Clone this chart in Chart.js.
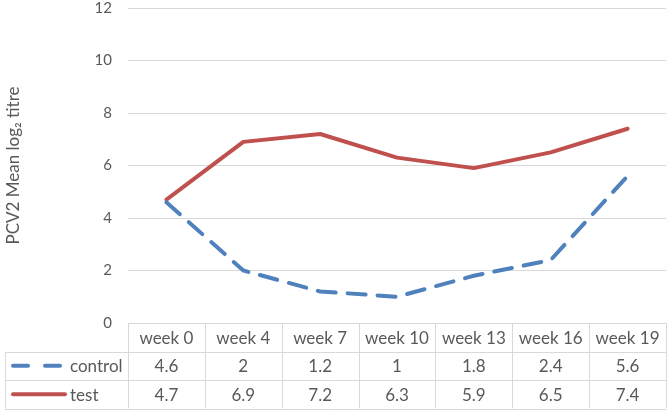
<!DOCTYPE html>
<html>
<head>
<meta charset="utf-8">
<script src="https://cdn.jsdelivr.net/npm/chart.js@4"></script>
<style>
    html, body { margin: 0; padding: 0; background: #fff; }
    #wrap { width: 669px; height: 412px; position: relative; }
</style>
</head>
<body>
<div id="wrap"><canvas id="grafico"></canvas></div>
<script>
const semanas = ['week 0', 'week 4', 'week 7', 'week 10', 'week 13', 'week 16', 'week 19'];
const controle = [4.6, 2, 1.2, 1, 1.8, 2.4, 5.6];
const teste = [4.7, 6.9, 7.2, 6.3, 5.9, 6.5, 7.4];
const nomes = ['control', 'test'];

const corControle = '#4F81BD';
const corTeste = '#C0504D';
const corTexto = '#595959';
const corGrade = '#d9d9d9';
const fonte = 'Lato, "Open Sans", sans-serif';

// desenha a tabela de dados embaixo do grafico
const tabelaPlugin = {
    id: 'tabela',
    afterDraw: function (chart) {
        const ctx = chart.ctx;
        const x = chart.scales.x;
        const topo = chart.chartArea.bottom;
        const alt = 28.5;
        const esq = 5;
        const colW = (x.right - x.left) / semanas.length;
        const series = [controle, teste];

        ctx.save();
        ctx.strokeStyle = corGrade;
        ctx.lineWidth = 1;
        ctx.beginPath();
        // linhas horizontais
        ctx.moveTo(x.left, topo + 0.5);
        ctx.lineTo(x.right, topo + 0.5);
        for (let r = 1; r <= 3; r++) {
            const yy = Math.round(topo + r * alt) + 0.5;
            ctx.moveTo(esq, yy);
            ctx.lineTo(x.right, yy);
        }
        // linhas verticais
        for (let c = 0; c <= semanas.length; c++) {
            const xx = Math.round(x.left + c * colW) + 0.5;
            ctx.moveTo(xx, topo);
            ctx.lineTo(xx, topo + 3 * alt);
        }
        ctx.moveTo(esq + 0.5, topo + alt);
        ctx.lineTo(esq + 0.5, topo + 3 * alt);
        ctx.stroke();

        ctx.fillStyle = corTexto;
        ctx.font = '17px ' + fonte;
        ctx.textAlign = 'center';
        ctx.textBaseline = 'middle';
        semanas.forEach(function (s, i) {
            const cx = x.getPixelForValue(i);
            ctx.fillText(s, cx, topo + alt / 2 + 1);
            series.forEach(function (serie, j) {
                ctx.fillText(String(serie[i]), cx, topo + (j + 1.5) * alt + 1);
            });
        });

        // chaves da legenda
        ctx.lineWidth = 4;
        ctx.lineCap = 'round';
        const yc = topo + 1.5 * alt;
        ctx.strokeStyle = corControle;
        ctx.setLineDash([15, 17]);
        ctx.beginPath();
        ctx.moveTo(13, yc);
        ctx.lineTo(63, yc);
        ctx.stroke();
        ctx.setLineDash([]);
        ctx.strokeStyle = corTeste;
        ctx.beginPath();
        ctx.moveTo(13, yc + alt);
        ctx.lineTo(65, yc + alt);
        ctx.stroke();

        ctx.textAlign = 'left';
        ctx.fillText(nomes[0], 70, yc + 1);
        ctx.fillText(nomes[1], 70, yc + alt + 1);
        ctx.restore();
    }
};

const ctx = document.getElementById('grafico').getContext('2d');
new Chart(ctx, {
    type: 'line',
    data: {
        labels: semanas,
        datasets: [{
            label: nomes[0],
            data: controle,
            borderColor: corControle,
            borderWidth: 4,
            borderDash: [18, 12],
            borderCapStyle: 'round',
            pointRadius: 0,
            tension: 0,
            fill: false
        }, {
            label: nomes[1],
            data: teste,
            borderColor: corTeste,
            borderWidth: 4,
            borderCapStyle: 'round',
            borderJoinStyle: 'round',
            pointRadius: 0,
            tension: 0,
            fill: false
        }]
    },
    options: {
        responsive: true,
        maintainAspectRatio: false,
        animation: false,
        layout: { padding: { top: 8, right: 3, left: 3, bottom: 0 } },
        plugins: {
            legend: { display: false },
            tooltip: { enabled: false }
        },
        scales: {
            x: {
                offset: true,
                grid: { display: false },
                border: { display: false },
                ticks: { display: false },
                afterFit: function (s) { s.height = 89; }
            },
            y: {
                min: 0,
                max: 12,
                ticks: {
                    stepSize: 2,
                    color: corTexto,
                    padding: 16,
                    font: { family: fonte, size: 15 }
                },
                grid: { color: corGrade, lineWidth: 1, drawTicks: false },
                border: { display: false },
                title: {
                    display: true,
                    text: 'PCV2 Mean log\u2082 titre',
                    color: corTexto,
                    font: { family: fonte, size: 17 },
                    padding: { top: 0, bottom: 0 }
                },
                afterFit: function (s) {
                    s.width = 125;
                    s.paddingTop = 0;
                    s.paddingBottom = 0;
                }
            }
        }
    },
    plugins: [tabelaPlugin]
});
</script>
</body>
</html>
